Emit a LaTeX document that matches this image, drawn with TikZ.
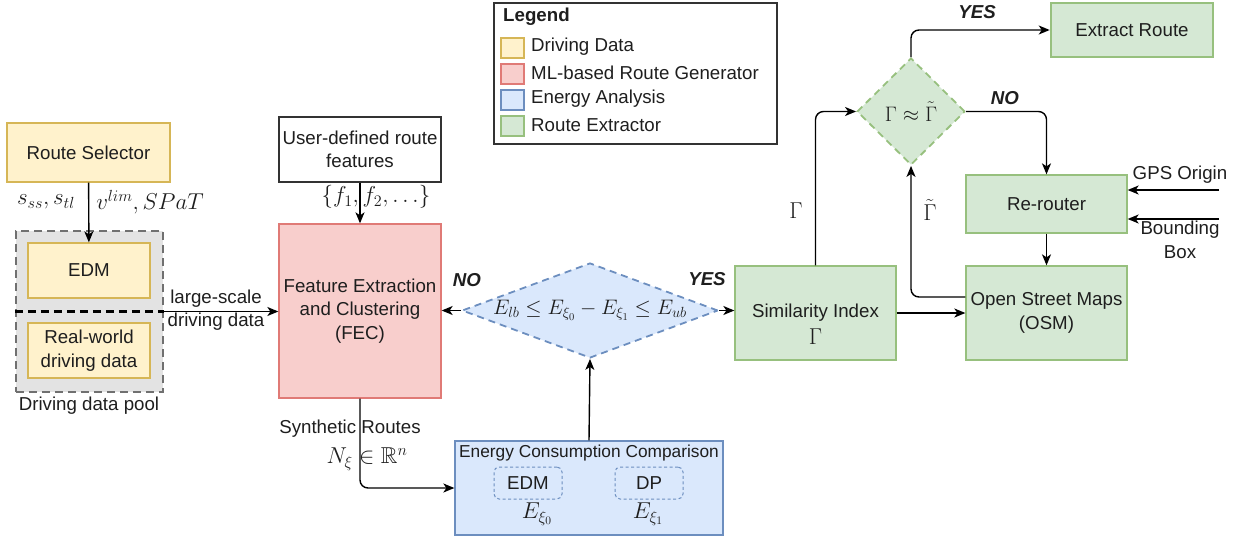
\RequirePackage{fix-cm}
\documentclass[tikz,border=0pt]{standalone}
\usepackage[no-math]{fontspec}
\setmainfont{Liberation Sans}
\usepackage{amssymb}
\usetikzlibrary{arrows.meta,shapes.geometric}
\definecolor{ylwF}{HTML}{FFF2CC}\definecolor{ylwD}{HTML}{D6B656}
\definecolor{redF}{HTML}{F8CECC}\definecolor{redD}{HTML}{E07A76}
\definecolor{bluF}{HTML}{DAE8FC}\definecolor{bluD}{HTML}{6C8EBF}
\definecolor{grnF}{HTML}{D5E8D4}\definecolor{grnD}{HTML}{97C07E}
\definecolor{poolF}{HTML}{E3E3E3}\definecolor{poolD}{HTML}{707070}
\definecolor{txt}{HTML}{1E1E1E}
\definecolor{edge}{HTML}{333333}
\begin{document}
\begin{tikzpicture}[x=1pt,y=-1pt,
  font=\fontsize{18.7}{23.5}\selectfont, text=txt,
  every node/.style={inner sep=1pt, align=center},
  ybox/.style={draw=ylwD, fill=ylwF, line width=1.3pt},
  rbox/.style={draw=redD, fill=redF, line width=1.3pt},
  bbox/.style={draw=bluD, fill=bluF, line width=1.3pt},
  gbox/.style={draw=grnD, fill=grnF, line width=1.3pt},
  wbox/.style={draw=edge, fill=white, line width=1.3pt},
  arr/.style={draw=black, line width=1.4pt, -{Stealth[length=11pt,width=9pt,inset=3pt]}},
  lab/.style={font=\fontsize{18.7}{23}\selectfont\bfseries\itshape},
  mth/.style={font=\fontsize{23}{27}\selectfont},
  mths/.style={font=\fontsize{21}{25}\selectfont},
  sw/.style={minimum width=23pt, minimum height=20pt, line width=1.2pt, inner sep=0pt},
]
\useasboundingbox (0,0) rectangle (1241,538);

% Legend
\node[draw=edge, line width=1.4pt, minimum width=283pt, minimum height=141pt, inner sep=0pt] (leg) at (635.5,73.5) {};
\node[anchor=west, font=\fontsize{18.7}{23}\selectfont\bfseries] (legt) at (502,17) {Legend};
\node[sw, ybox] (l1) at (512.5,48) {};
\node[sw, rbox] (l2) at (512.5,74) {};
\node[sw, bbox] (l3) at (512.5,100) {};
\node[sw, gbox] (l4) at (512.5,126) {};
\node[anchor=west] (l1t) at (530,47) {Driving Data};
\node[anchor=west] (l2t) at (530,73) {ML-based Route Generator};
\node[anchor=west] (l3t) at (530,99) {Energy Analysis};
\node[anchor=west] (l4t) at (530,125) {Route Extractor};

% Left: route selector and data pool
\node[ybox, minimum width=163pt, minimum height=59pt] (rs) at (88.5,152.5) {Route Selector};
\node[draw=poolD, fill=poolF, dashed, dash pattern=on 8pt off 5pt, line width=2.2pt,
      minimum width=147pt, minimum height=161pt] (pool) at (89.5,311.5) {};
\node[ybox, minimum width=122pt, minimum height=55pt] (edm) at (89,270.5) {EDM};
\node[ybox, minimum width=122pt, minimum height=55pt] (rw) at (89,350.5) {Real-world\\driving data};
\draw[black, line width=2.2pt, dash pattern=on 8pt off 5pt] (pool.west) -- (pool.east);
\node (pooll) at (89,406) {Driving data pool};
\draw[arr] (rs) -- (edm);
\node[mth] (sl) at (46,202) {$s_{ss}, s_{tl}$};
\node[mth] (vl) at (150,202) {$v^{lim}, SPaT$};

% FEC
\node[wbox, minimum width=162pt, minimum height=65pt] (user) at (360,149.5) {User-defined route\\features};
\node[rbox, minimum width=162pt, minimum height=174pt] (fec) at (360,311) {Feature Extraction\\and Clustering\\(FEC)};
\draw[arr] (user) -- (fec);
\node[mth] (fl) at (376,197) {$\{f_1, f_2, \dots\}$};
\draw[arr] (pool.east) -- (fec.west |- pool.east);
\node (lsl) at (216,310) {large-scale\\driving data};

% Energy diamond
\node[diamond, draw=bluD, fill=bluF, dashed, dash pattern=on 7pt off 5pt, line width=1.8pt,
      minimum width=256pt, minimum height=95pt, inner sep=0pt] (d1) at (590,310.5) {};
\node[mths] (d1t) at (d1.center) {$E_{lb} \leq E_{\xi_0} - E_{\xi_1} \leq E_{ub}$};
\draw[arr] (d1.west) -- (fec.east |- d1.west);
\node[lab] (no1) at (467,280) {NO};
\node[lab] (yes1) at (707,279) {YES};

% Energy consumption comparison
\node[bbox, minimum width=268pt, minimum height=94pt] (ecc) at (589,488) {};
\node[font=\fontsize{17.3}{21}\selectfont] (ecct) at (589,453) {Energy Consumption Comparison};
\node[draw=bluD, dashed, dash pattern=on 3pt off 2.5pt, line width=1pt, rounded corners=5pt,
      minimum width=68pt, minimum height=32pt] (edm2) at (528,483) {EDM};
\node[draw=bluD, dashed, dash pattern=on 3pt off 2.5pt, line width=1pt, rounded corners=5pt,
      minimum width=68pt, minimum height=32pt] (dp) at (649,483) {DP};
\node[mth] (e0) at (537,514) {$E_{\xi_0}$};
\node[mth] (e1) at (648,514) {$E_{\xi_1}$};
\draw[arr, rounded corners=8pt] (fec.south) |- (ecc.west);
\node (synl) at (350,429) {Synthetic Routes};
\node[mth] (nl) at (367,459) {$N_{\xi} \in \mathbb{R}^n$};
\draw[arr] (ecc.north) -- (d1.south);

% Route extractor
\node[gbox, minimum width=161pt, minimum height=94pt] (si) at (815.5,313) {};
\node (sit) at (815.5,313) {Similarity Index};
\node[mth] (sig) at (815.5,337) {$\Gamma$};
\draw[arr] (d1.east) -- (si.west |- d1.east);
\node[gbox, minimum width=161pt, minimum height=94pt] (osm) at (1046.5,313) {Open Street Maps\\(OSM)};
\node[gbox, minimum width=161pt, minimum height=58pt] (rr) at (1046.5,204) {Re-router};
\node[diamond, draw=grnD, fill=grnF, dashed, dash pattern=on 7pt off 5pt, line width=1.8pt,
      minimum width=108pt, minimum height=107pt, inner sep=0pt] (d2) at (911,111.5) {};
\node[mths] (d2t) at (d2.center) {$\Gamma \approx \tilde{\Gamma}$};
\node[draw=grnD, fill=grnF, line width=2.6pt, minimum width=162pt, minimum height=54pt] (er) at (1132,30) {Extract Route};

\draw[arr] (si.east) -- (osm.west);
\draw[arr] (rr.south) -- (osm.north);
\draw[arr, rounded corners=8pt] (si.north) |- (d2.west);
\draw[arr, rounded corners=8pt] ([yshift=16pt]osm.west) -| (d2.south);
\draw[arr, rounded corners=8pt] (d2.north) |- (er.west);
\draw[arr, rounded corners=8pt] (d2.east) -| (rr.north);
\node[mth] (gl) at (796,211) {$\Gamma$};
\node[mth] (gtl) at (930,210) {$\tilde{\Gamma}$};
\node[lab] (yes2) at (977,12) {YES};
\node[lab] (no2) at (1005,98) {NO};

\coordinate (gps) at (1219,190);
\coordinate (bb) at (1219,219);
\draw[arr] (gps) -- (rr.east |- gps);
\draw[arr] (bb) -- (rr.east |- bb);
\node (gpsl) at (1180,175) {GPS Origin};
\node (bbl) at (1180,240) {Bounding\\Box};
\end{tikzpicture}
\end{document}
